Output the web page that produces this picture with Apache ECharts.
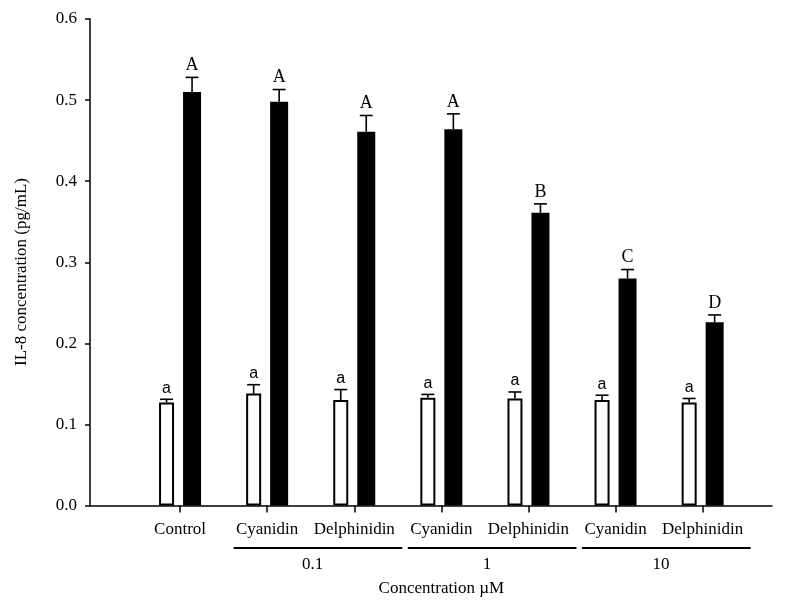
<!DOCTYPE html>
<html><head><meta charset="utf-8">
<script src="https://cdn.jsdelivr.net/npm/echarts@6/dist/echarts.min.js"></script>
<style>html,body{margin:0;padding:0;background:#fff}#c{width:800px;height:610px}</style>
</head><body><div id="c"></div>
<script>
const categories = ['Control','Cyanidin','Delphinidin','Cyanidin','Delphinidin','Cyanidin','Delphinidin'];
const unstimulated = [0.127, 0.138, 0.130, 0.133, 0.132, 0.130, 0.127];
const unstimulatedErr = [0.004, 0.011, 0.013, 0.004, 0.008, 0.006, 0.005];
const stimulated = [0.510, 0.498, 0.461, 0.464, 0.361, 0.280, 0.226];
const stimulatedErr = [0.018, 0.015, 0.020, 0.019, 0.011, 0.011, 0.009];
const lowerLetters = ['a','a','a','a','a','a','a'];
const upperLetters = ['A','A','A','A','B','C','D'];
const groupLabels = ['0.1', '1', '10'];
const groupStart = [1, 3, 5];
const groupEnd = [2, 4, 6];
const yMin = 0, yMax = 0.6, yStep = 0.1;

const SERIF = '"Liberation Serif","Times New Roman",serif';
const chart = echarts.init(document.getElementById('c'), null, {renderer: 'canvas'});

function errSeries(values, errs, letters, offset, font) {
  return {
    type: 'custom', xAxisIndex: 1, yAxisIndex: 1, z: 10, silent: true,
    data: values.map((v, i) => [i, v, v + errs[i]]),
    renderItem(params, api) {
      const base = api.coord([api.value(0), api.value(1)]);
      const hi = api.coord([api.value(0), api.value(2)]);
      const x = base[0] + offset;
      return {
        type: 'group',
        children: [
          {type: 'line', shape: {x1: x, y1: base[1], x2: x, y2: hi[1]}, style: {stroke: '#000', lineWidth: 1.6}},
          {type: 'line', shape: {x1: x - 6.5, y1: hi[1], x2: x + 6.5, y2: hi[1]}, style: {stroke: '#000', lineWidth: 1.6}},
          {type: 'text', x: x, y: hi[1] - 3,
           style: {text: letters[params.dataIndex], fill: '#000', font: font,
                   align: 'center', verticalAlign: 'bottom', textAlign: 'center', textVerticalAlign: 'bottom'}}
        ]
      };
    }
  };
}

const option = {
  animation: false,
  backgroundColor: '#fff',
  grid: [
    {left: 90, right: 28, top: 19, bottom: 104.5},
    {left: 136.5, right: 53.8, top: 19, bottom: 104.5}
  ],
  xAxis: [
    {type: 'value', gridIndex: 0, min: 0, max: 1,
     axisLine: {show: true, onZero: false, lineStyle: {color: '#000', width: 1.5}},
     axisTick: {show: false}, axisLabel: {show: false}, splitLine: {show: false}},
    {type: 'category', gridIndex: 1, data: categories,
     axisLine: {show: false}, 
     axisTick: {show: true, alignWithLabel: true, length: 7, lineStyle: {color: '#000', width: 1.5}},
     axisLabel: {interval: 0, margin: 16, color: '#000', fontFamily: SERIF, fontSize: 17},
     name: 'Concentration \u00b5M', nameLocation: 'middle', nameGap: 75,
     nameTextStyle: {color: '#000', fontFamily: SERIF, fontSize: 17}}
  ],
  yAxis: [
    {type: 'value', gridIndex: 0, min: yMin, max: yMax, interval: yStep,
     axisLine: {show: true, lineStyle: {color: '#000', width: 1.5}},
     axisTick: {show: true, length: 5, lineStyle: {color: '#000', width: 1.5}},
     axisLabel: {margin: 13, color: '#000', fontFamily: SERIF, fontSize: 17, formatter: v => v.toFixed(1)},
     splitLine: {show: false}},
    {type: 'value', gridIndex: 1, min: yMin, max: yMax, interval: yStep, show: false, splitLine: {show: false}}
  ],
  series: [
    {type: 'bar', xAxisIndex: 1, yAxisIndex: 1, data: unstimulated, barWidth: 15, barGap: '60%',
     itemStyle: {color: '#fff', borderColor: '#000', borderWidth: 2}},
    {type: 'bar', xAxisIndex: 1, yAxisIndex: 1, data: stimulated, barWidth: 18,
     itemStyle: {color: '#000', borderColor: '#000', borderWidth: 0}},
    errSeries(unstimulated, unstimulatedErr, lowerLetters, -13.5, '16px "Liberation Sans",Arial,sans-serif'),
    errSeries(stimulated, stimulatedErr, upperLetters, 12, '18px ' + SERIF)
  ]
};
chart.setOption(option);

const gfx = [{
  type: 'text', x: 22, y: 272, rotation: Math.PI / 2,
  style: {text: 'IL-8 concentration (pg/mL)', fill: '#000', font: '17px ' + SERIF,
          align: 'center', verticalAlign: 'middle', textAlign: 'center', textVerticalAlign: 'middle'}
}];
groupLabels.forEach((lab, g) => {
  const a = chart.convertToPixel({gridIndex: 1}, [groupStart[g], 0])[0];
  const b = chart.convertToPixel({gridIndex: 1}, [groupEnd[g], 0])[0];
  gfx.push({type: 'line', shape: {x1: a - 33.5, y1: 548, x2: b + 48, y2: 548},
            style: {stroke: '#000', lineWidth: 2.2}});
  gfx.push({type: 'text', x: (a + b) / 2 + 2, y: 565,
            style: {text: lab, fill: '#000', font: '17px ' + SERIF,
                    align: 'center', verticalAlign: 'middle', textAlign: 'center', textVerticalAlign: 'middle'}});
});
chart.setOption({graphic: gfx});
</script></body></html>
